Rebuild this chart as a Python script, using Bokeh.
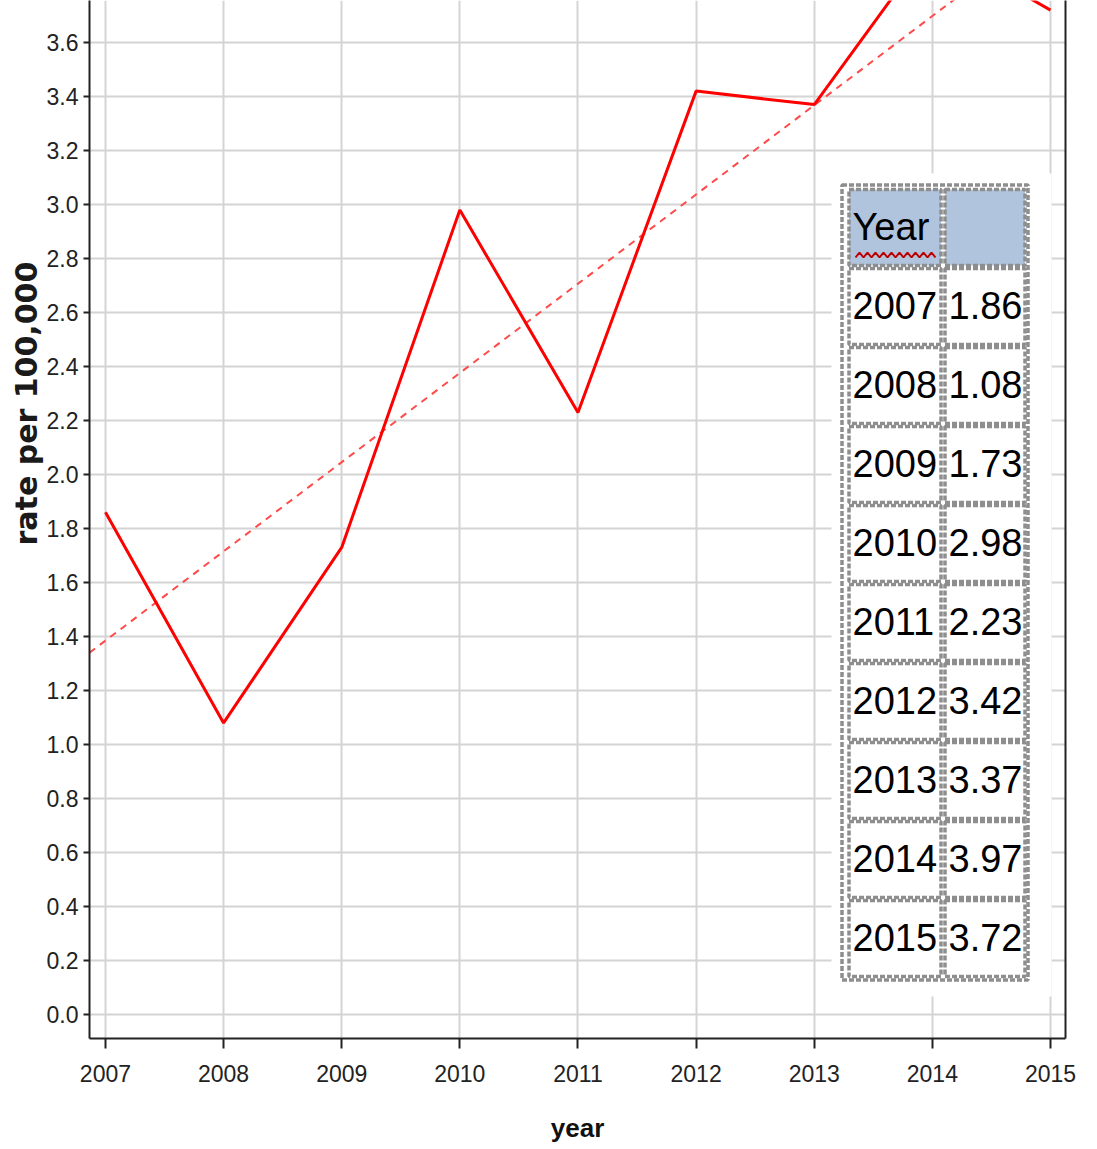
import numpy as np
from bokeh.plotting import figure
from bokeh.models import (LinearAxis, FixedTicker, ColumnDataSource, Range1d, Title)
from bokeh.core.properties import value
from bokeh.embed import file_html
from bokeh.resources import INLINE

# ---------------- data ----------------
years = [2007, 2008, 2009, 2010, 2011, 2012, 2013, 2014, 2015]
rates = [1.86, 1.08, 1.73, 2.98, 2.23, 3.42, 3.37, 3.97, 3.72]
rate_labels = ["1.86", "1.08", "1.73", "2.98", "2.23", "3.42", "3.37", "3.97", "3.72"]
year_labels = ["2007", "2008", "2009", "2010", "2011", "2012", "2013", "2014", "2015"]
x_ticks = [2007, 2008, 2009, 2010, 2011, 2012, 2013, 2014, 2015]
y_ticks = [0.0, 0.2, 0.4, 0.6, 0.8, 1.0, 1.2, 1.4, 1.6, 1.8, 2.0, 2.2, 2.4, 2.6,
           2.8, 3.0, 3.2, 3.4, 3.6, 3.8]
y_tick_labels = ["0.0", "0.2", "0.4", "0.6", "0.8", "1.0", "1.2", "1.4", "1.6", "1.8",
                 "2.0", "2.2", "2.4", "2.6", "2.8", "3.0", "3.2", "3.4", "3.6", "3.8"]
table_header = ["Year", ""]
x_label = "year"
y_label = "rate per 100,000"

# ---------------- layout ----------------
FONT = "Liberation Sans"
X0, X1 = 2006.865, 2015.127
Y0, Y1 = -0.0889, 3.7556
FRAME_L, FRAME_T, FRAME_W, FRAME_H = 89, 0, 976, 1038   # page pixels


def dx(px):
    return X0 + (px - FRAME_L) * (X1 - X0) / FRAME_W


def dy(py):
    return Y1 - (py - FRAME_T) * (Y1 - Y0) / FRAME_H


p = figure(width=1094, height=1149, x_range=Range1d(X0, X1), y_range=Range1d(Y0, Y1),
           output_backend="svg", toolbar_location=None,
           min_border_left=89, min_border_right=29, min_border_top=0, min_border_bottom=111)
p.outline_line_color = None
p.background_fill_color = "white"
p.border_fill_color = "white"

# axes
p.xaxis.ticker = FixedTicker(ticks=x_ticks, minor_ticks=[])
p.yaxis.ticker = FixedTicker(ticks=y_ticks, minor_ticks=[])
p.xaxis.major_label_overrides = {t: l for t, l in zip(x_ticks, year_labels)}
p.yaxis.major_label_overrides = {t: l for t, l in zip(y_ticks, y_tick_labels)}
for ax in (p.xaxis, p.yaxis):
    ax.axis_line_color = "#222222"
    ax.axis_line_width = 2
    ax.major_tick_line_color = "#222222"
    ax.major_tick_line_width = 2
    ax.minor_tick_line_color = None
    ax.major_tick_in = 0
    ax.major_label_text_font = FONT
    ax.major_label_text_font_size = "23px"
    ax.major_label_text_color = "#222222"
p.yaxis.major_tick_out = 6
p.yaxis.major_label_standoff = 5
p.xaxis.major_tick_out = 10
p.xaxis.major_label_standoff = 16
p.xaxis.axis_label = x_label
p.xaxis.axis_label_text_font = FONT
p.xaxis.axis_label_text_font_style = "bold"
p.xaxis.axis_label_text_font_size = "26px"
p.xaxis.axis_label_text_color = "#111111"
p.xaxis.axis_label_standoff = 28

right = LinearAxis(ticker=FixedTicker(ticks=[], minor_ticks=[]), axis_line_color="#222222",
                   axis_line_width=2, major_tick_line_color=None, minor_tick_line_color=None,
                   major_label_text_font_size="0px")
p.add_layout(right, "right")

# y-axis title (off-centre as in the reference)
p.add_layout(Title(text=y_label, align="left", offset=493, standoff=0,
                   text_font="DejaVu Sans", text_font_style="bold",
                   text_font_size="30px", text_color="#1a1a1a"), "left")

# grids
p.xgrid.ticker = FixedTicker(ticks=x_ticks, minor_ticks=[])
p.ygrid.ticker = FixedTicker(ticks=y_ticks, minor_ticks=[])
for g in (p.xgrid, p.ygrid):
    g.grid_line_color = "#d4d4d4"
    g.grid_line_width = 2

# trend line (least squares of the data)
slope, intercept = np.polyfit(years, rates, 1)
tx = [X0, X1]
ty = [slope * x + intercept for x in tx]
p.line(tx, ty, line_color="#ff4a4a", line_width=2, line_dash="7 6")

# data line
p.line(years, rates, line_color="#ff0000", line_width=3)

# ---------------- table overlay ----------------
p.quad(left=[dx(831)], right=[dx(1051)], top=[dy(173)], bottom=[dy(996)],
       fill_color="white", line_color=None)
p.quad(left=[dx(841.5)], right=[dx(1027.5)], top=[dy(184.5)], bottom=[dy(979.5)],
       fill_color=None, line_color="#8e8e8e", line_width=3.5, line_dash="5 2")

rows_first = table_header[:1] + year_labels
rows_second = table_header[1:] + rate_labels
lefts, rights, tops, bottoms, fills = [], [], [], [], []
tx1, tx2, ty_c = [], [], []
for r in range(len(rows_first)):
    top = 189 + 79 * r
    bot = top + 76
    for (l, rr) in ((848.5, 940.5), (944.5, 1024.5)):
        lefts.append(dx(l)); rights.append(dx(rr))
        tops.append(dy(top)); bottoms.append(dy(bot))
        fills.append("#b0c4de" if r == 0 else "white")
    ty_c.append(dy(top + 37))
    tx1.append(dx(852))
    tx2.append(dx(948))

cells = ColumnDataSource(dict(left=lefts, right=rights, top=tops, bottom=bottoms, fill=fills))
p.quad(left="left", right="right", top="top", bottom="bottom", fill_color="fill",
       line_color="#8e8e8e", line_width=3.5, line_dash="5 2", source=cells)

p.text(x=tx1, y=ty_c, text=rows_first, text_font=value(FONT), text_font_size="38px",
       text_align="left", text_baseline="middle", text_color="#000000")
p.text(x=tx2, y=ty_c, text=rows_second, text_font=value(FONT), text_font_size="38px",
       text_align="left", text_baseline="middle", text_color="#000000")

# spell-check squiggle under "Year"
zx = np.arange(855, 937, 4)
zy = np.where(np.arange(len(zx)) % 2 == 0, 257, 252)
p.line([dx(v) for v in zx], [dy(v) for v in zy], line_color="#c00000", line_width=2)

open("out.html", "w").write(file_html(p, INLINE))
